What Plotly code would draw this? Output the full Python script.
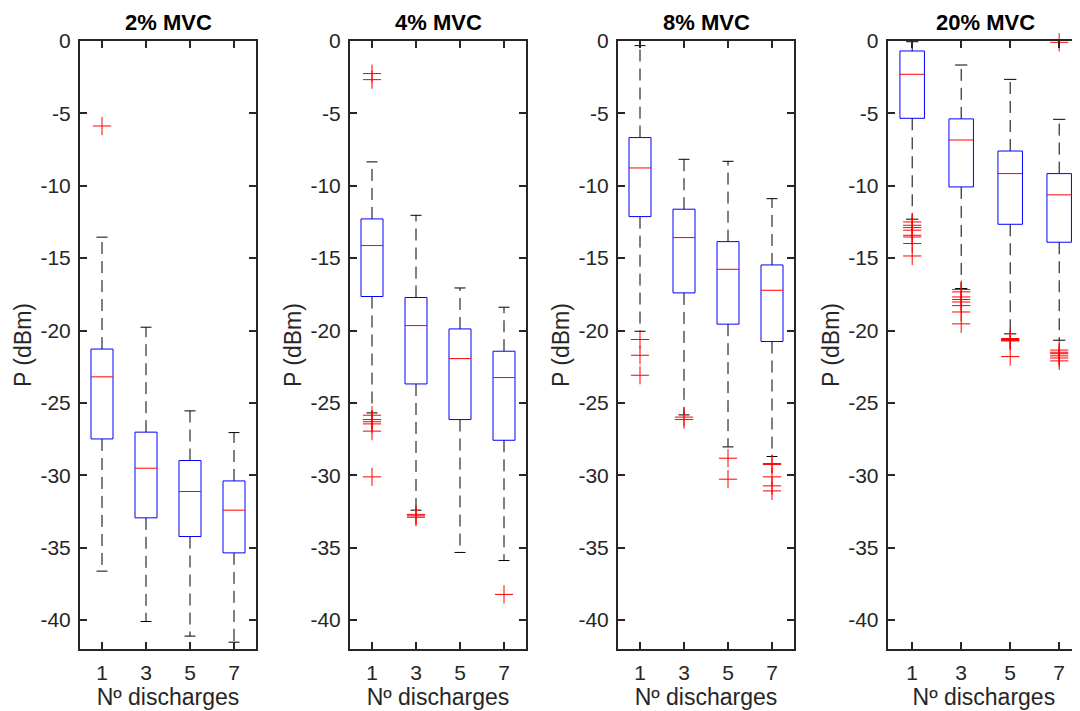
import plotly.graph_objects as go

# ---------------- data ----------------
positions = [1, 3, 5, 7]
panel_titles = ["2% MVC", "4% MVC", "8% MVC", "20% MVC"]
ytick_vals = [0, -5, -10, -15, -20, -25, -30, -35, -40]
ytick_text = ["0", "-5", "-10", "-15", "-20", "-25", "-30", "-35", "-40"]
xtick_text = ["1", "3", "5", "7"]

# 2% MVC
upper_2 = [-13.55, -19.77, -25.55, -27.05]
q3_2 = [-21.28, -27.02, -28.98, -30.39]
median_2 = [-23.20, -29.51, -31.12, -32.41]
q1_2 = [-27.49, -32.94, -34.23, -35.36]
lower_2 = [-36.62, -40.10, -41.11, -41.53]
outliers_2 = [[-5.87], [], [], []]

# 4% MVC
upper_4 = [-8.35, -12.04, -17.06, -18.39]
q3_4 = [-12.29, -17.72, -19.89, -21.43]
median_4 = [-14.13, -19.66, -21.94, -23.25]
q1_4 = [-17.65, -23.69, -26.15, -27.58]
lower_4 = [-25.69, -32.41, -35.33, -35.89]
outliers_4 = [[-2.25, -2.67, -25.85, -26.15, -26.30, -26.45, -26.95, -30.11],
              [-32.70, -32.80, -32.90], [], [-38.23]]

# 8% MVC
upper_8 = [-0.32, -8.17, -8.31, -10.89]
q3_8 = [-6.67, -11.62, -13.86, -15.47]
median_8 = [-8.77, -13.58, -15.77, -17.22]
q1_8 = [-12.13, -17.40, -19.56, -20.76]
lower_8 = [-20.05, -25.83, -28.04, -28.70]
outliers_8 = [[-20.62, -21.71, -23.09], [-25.98, -26.15],
              [-28.82, -30.27], [-29.19, -29.26, -30.11, -30.73, -31.08]]

# 20% MVC
upper_20 = [-0.05, -1.66, -2.65, -5.41]
q3_20 = [-0.69, -5.38, -7.60, -9.16]
median_20 = [-2.30, -6.84, -9.16, -10.63]
q1_20 = [-5.34, -10.08, -12.66, -13.90]
lower_20 = [-12.31, -17.10, -20.23, -20.67]
outliers_20 = [[-12.50, -12.73, -12.89, -13.07, -13.42, -13.54, -13.99, -14.85],
               [-17.17, -17.33, -17.68, -17.86, -18.03, -18.28, -18.72, -19.54],
               [-20.55, -20.62, -20.68, -20.72, -21.80],
               [-0.09, -21.35, -21.50, -21.60, -21.75, -21.90, -22.10]]

panels = [
    (upper_2, q3_2, median_2, q1_2, lower_2, outliers_2),
    (upper_4, q3_4, median_4, q1_4, lower_4, outliers_4),
    (upper_8, q3_8, median_8, q1_8, lower_8, outliers_8),
    (upper_20, q3_20, median_20, q1_20, lower_20, outliers_20),
]

# ---------------- style ----------------
OFF = 8                      # page body margin
W, H = 1080 - OFF, 711 - OFF
BOX_HW = 0.5
CAP_HW = 0.25
YRANGE = [-42, 0]
FONT = "Liberation Sans, Arial, sans-serif"
AXC = "#262626"
# page-pixel extents of each axes box (panel 4 is clipped by the image edge)
left_px = [80, 350, 618, 887.7]
right_px = [256, 526, 794, 1080]
xranges = [[0, 8], [0, 8], [0, 8], [0, (1080 - 887.7) / 24.5]]

fig = go.Figure()

for i, (ups, q3s, meds, q1s, lows, outs) in enumerate(panels):
    n = "" if i == 0 else str(i + 1)
    xa, ya = "x" + n, "y" + n
    bx, by, mx, my, wx, wy, cx, cy, ox, oy = [], [], [], [], [], [], [], [], [], []
    for p, u, q3, m, q1, lo, ol in zip(positions, ups, q3s, meds, q1s, lows, outs):
        bx += [p - BOX_HW, p + BOX_HW, p + BOX_HW, p - BOX_HW, p - BOX_HW, None]
        by += [q1, q1, q3, q3, q1, None]
        mx += [p - BOX_HW, p + BOX_HW, None]
        my += [m, m, None]
        wx += [p, p, None, p, p, None]
        wy += [q3, u, None, q1, lo, None]
        cx += [p - CAP_HW, p + CAP_HW, None, p - CAP_HW, p + CAP_HW, None]
        cy += [u, u, None, lo, lo, None]
        ox += [p] * len(ol)
        oy += ol
    fig.add_trace(go.Scatter(x=wx, y=wy, mode="lines", xaxis=xa, yaxis=ya,
                             line=dict(color="black", width=1, dash="12px,7px"),
                             hoverinfo="skip", connectgaps=False))
    fig.add_trace(go.Scatter(x=cx, y=cy, mode="lines", xaxis=xa, yaxis=ya,
                             line=dict(color="black", width=1), hoverinfo="skip",
                             cliponaxis=False))
    fig.add_trace(go.Scatter(x=bx, y=by, mode="lines", xaxis=xa, yaxis=ya,
                             line=dict(color="#0000FF", width=1), hoverinfo="skip"))
    fig.add_trace(go.Scatter(x=mx, y=my, mode="lines", xaxis=xa, yaxis=ya,
                             line=dict(color="#FF0000", width=1), hoverinfo="skip"))
    fig.add_trace(go.Scatter(x=ox, y=oy, mode="markers", xaxis=xa, yaxis=ya,
                             marker=dict(symbol="cross-thin-open", size=13, color="#FF0000",
                                         line=dict(color="#FF0000", width=1)),
                             cliponaxis=False, hoverinfo="skip"))

    dom = [(left_px[i] - OFF) / W, min((right_px[i] - OFF) / W, 1.0)]
    last = i == 3
    fig.layout["xaxis" + n] = dict(
        domain=dom, anchor=ya, range=xranges[i], tickvals=positions, ticktext=xtick_text,
        ticks="inside", ticklen=7, tickwidth=2, tickcolor=AXC,
        showline=True, linewidth=2, linecolor=AXC, mirror="ticks",
        showgrid=False, zeroline=False, ticklabelstandoff=4,
        tickfont=dict(family=FONT, size=21, color=AXC),
        title=dict(text="Nº discharges", font=dict(family=FONT, size=23, color=AXC), standoff=6),
    )
    fig.layout["yaxis" + n] = dict(
        domain=[0, 1], anchor=xa, range=YRANGE, tickvals=ytick_vals, ticktext=ytick_text,
        ticks="inside", ticklen=7, tickwidth=2, tickcolor=AXC,
        showline=True, linewidth=2, linecolor=AXC, mirror=(False if last else "ticks"),
        showgrid=False, zeroline=False, ticklabelstandoff=3,
        tickfont=dict(family=FONT, size=21, color=AXC),
        title=dict(text="P (dBm)", font=dict(family=FONT, size=23, color=AXC), standoff=2),
    )
    fig.add_annotation(x=(xranges[0][0] + xranges[0][1]) / 2, xref=xa,
                       y=1 + 19 / 608, yref=ya + " domain",
                       text="<b>" + panel_titles[i] + "</b>", showarrow=False,
                       xanchor="center", yanchor="middle",
                       font=dict(family=FONT, size=22, color="black"))

# right-hand ticks of the clipped last panel
fig.add_trace(go.Scatter(x=[None], y=[None], xaxis="x4", yaxis="y5", hoverinfo="skip"))
fig.layout["yaxis5"] = dict(
    overlaying="y4", anchor="x4", side="right", range=YRANGE, tickvals=ytick_vals,
    ticks="inside", ticklen=3, tickwidth=2, tickcolor=AXC, showticklabels=False,
    showline=False, showgrid=False, zeroline=False,
)

fig.update_layout(
    width=W, height=H, margin=dict(l=0, r=0, t=41 - OFF, b=H - (649 - OFF)),
    plot_bgcolor="white", paper_bgcolor="white", showlegend=False,
)

fig.write_html("out.html")
